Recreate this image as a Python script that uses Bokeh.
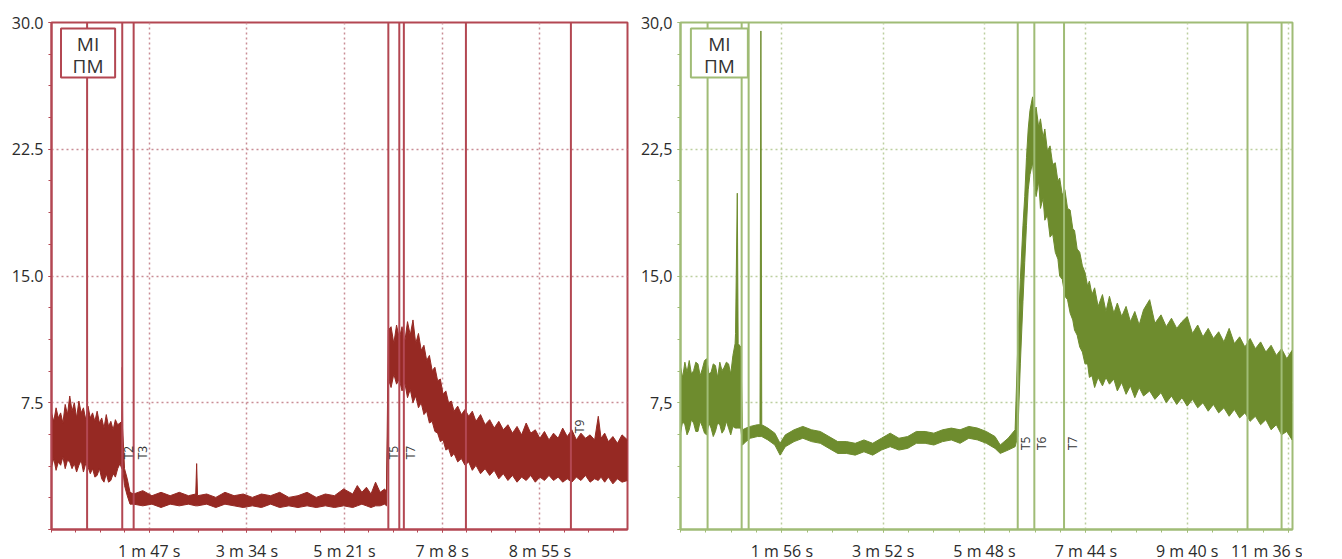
import math
from bokeh.plotting import figure
from bokeh.models import FixedTicker, BoxAnnotation, Label, Span, Range1d
from bokeh.layouts import row
from bokeh.embed import file_html
from bokeh.resources import INLINE

# ---------------- data: left panel (MI, red) ----------------
left_t = [0, 2.5, 5, 7.5, 10, 12.5, 15, 17.5, 20, 22.5, 25, 27.5, 30, 32.5, 35, 37.5, 40,
          42.5, 45, 47.5, 50, 52.5, 55, 57.5, 60, 62.5, 65, 67.5, 70, 72.5, 75,
          77, 77.5, 78, 80, 83, 86,
          90, 100, 110, 120, 130, 140, 150, 158, 159, 160, 170, 180, 190, 200, 210, 220,
          230, 240, 250, 260, 270, 280, 290, 300, 310, 320, 330, 335, 340, 345, 350, 355,
          360, 365, 367,
          369, 372, 375, 378, 381, 384, 387, 390, 393, 396, 399, 402, 405, 408, 411, 414,
          417, 420, 423, 426, 429, 432, 435, 438, 441, 445, 449, 453, 457, 461, 465, 470,
          475, 480, 485, 490, 495, 500, 505, 510, 515, 520, 525, 530, 535, 540, 545, 550,
          555, 560, 565, 570, 575, 580, 585, 590, 595, 599, 602, 606, 610, 615, 620, 625, 631]
left_hi = [6.9, 6.4, 7.2, 6.6, 6.9, 6.3, 7.4, 6.8, 7.9, 7.0, 7.5, 6.6, 7.6, 6.9, 7.2, 6.5, 7.3,
           6.6, 6.9, 6.4, 7.0, 6.3, 6.6, 6.0, 6.8, 6.1, 6.4, 5.9, 6.5, 6.2, 6.3,
           6.4, 9.6, 6.0, 3.6, 3.0, 2.2,
           2.1, 2.3, 2.0, 2.2, 2.0, 2.2, 2.0, 2.1, 3.9, 2.0, 2.1, 1.9, 2.2, 2.0, 2.1, 1.9,
           2.1, 2.0, 2.2, 1.9, 2.0, 2.2, 1.9, 2.1, 2.0, 2.4, 2.1, 2.6, 2.2, 2.5, 2.1, 2.8,
           2.2, 2.4, 2.2,
           11.8, 12.0, 11.0, 12.1, 11.3, 12.0, 11.1, 12.3, 11.5, 12.4, 11.0, 11.6, 10.6, 10.9, 10.0, 10.3,
           9.4, 9.6, 8.8, 8.9, 8.0, 8.2, 7.5, 7.6, 7.0, 7.3, 6.8, 7.1, 6.7, 7.0, 6.4, 6.8,
           6.2, 6.5, 6.0, 6.4, 5.9, 6.2, 5.7, 6.1, 5.6, 6.3, 5.7, 5.9, 5.4, 5.8, 5.3, 5.7,
           5.4, 6.0, 5.5, 5.9, 5.3, 5.7, 5.4, 5.6, 5.3, 6.7, 5.4, 5.7, 5.2, 5.5, 5.1, 5.6, 5.3]
left_lo = [3.7, 4.2, 3.5, 4.0, 3.8, 4.3, 3.6, 4.1, 4.0, 3.6, 3.9, 3.4, 3.8, 4.1, 3.4, 3.9, 3.7,
           3.3, 3.6, 3.1, 3.2, 3.6, 3.0, 2.8, 3.3, 2.8, 2.9, 3.3, 3.1, 3.6, 3.9,
           3.6, 3.6, 3.6, 2.6, 2.0, 1.5,
           1.5, 1.4, 1.5, 1.3, 1.5, 1.4, 1.5, 1.4, 1.4, 1.4, 1.5, 1.3, 1.5, 1.4, 1.3, 1.4,
           1.3, 1.5, 1.3, 1.4, 1.3, 1.4, 1.3, 1.4, 1.3, 1.4, 1.3, 1.4, 1.5, 1.4, 1.3, 1.4,
           1.4, 1.5, 1.4,
           8.9, 8.4, 9.2, 8.6, 8.9, 8.2, 8.7, 7.8, 8.3, 7.5, 7.9, 7.2, 7.5, 6.8, 7.0, 6.3,
           6.4, 5.8, 5.7, 5.2, 5.3, 4.7, 4.8, 4.3, 4.5, 4.0, 4.2, 3.8, 4.0, 3.5, 3.8, 3.3,
           3.6, 3.2, 3.5, 3.0, 3.3, 2.9, 3.2, 2.8, 3.1, 2.9, 3.2, 2.8, 3.1, 2.9, 3.2, 2.9,
           3.1, 2.8, 3.0, 2.8, 3.1, 2.9, 3.2, 2.8, 3.0, 2.9, 3.1, 2.8, 3.1, 2.7, 3.0, 2.8, 2.9]
left_events = [39, 77.5, 90, 369, 381, 386, 454, 569]
left_marks = ["T2", "T3", "T5", "T7", "T9"]
left_mark_t = [84, 100, 375, 393, 578]
left_mark_v = [4.55, 4.55, 4.55, 4.55, 6.1]
left_xticks = [107, 214, 321, 428, 535]
left_xlabels = ["1 m 47 s", "3 m 34 s", "5 m 21 s", "7 m 8 s", "8 m 55 s"]
left_yticks = [0, 7.5, 15, 22.5, 30]
left_ylabels = ["", "7.5", "15.0", "22.5", "30.0"]

# ---------------- data: right panel (ПМ, green) ----------------
right_t = [0, 2.5, 5, 7.5, 10, 12.5, 15, 17.5, 20, 22.5, 25, 27.5, 30, 32.5, 35, 37.5, 40,
           42.5, 45, 47.5, 50, 52.5, 55, 57.5, 60, 62.5, 63, 65, 66, 69,
           71, 75, 80, 88, 91, 92, 93, 100, 108, 114, 120, 130, 140, 150, 160, 170, 180,
           190, 200, 210, 220, 230, 240, 250, 260, 270, 280, 290, 300, 310, 320, 330, 340,
           350, 360, 366, 375, 383,
           386, 389, 392, 394, 396, 398, 400, 403, 405, 407, 410, 412, 415, 417, 420, 423,
           426, 429, 432, 434, 437, 440, 443, 446, 449, 451, 454, 457, 460, 463, 466, 468,
           471, 474, 478, 483, 487, 491, 496, 500, 505, 510, 515, 520, 525, 530, 537, 543,
           550, 556, 562, 568, 574, 580, 586, 592, 598, 604, 610, 616, 622, 628, 634, 640,
           646, 652, 658, 664, 670, 676, 682, 688, 694, 700]
right_hi = [9.6, 9.0, 9.9, 9.3, 10.0, 9.2, 9.4, 9.9, 9.8, 9.1, 9.5, 10.0, 10.1, 9.2, 9.3, 9.8, 9.7,
            9.0, 9.9, 9.4, 9.6, 9.9, 9.8, 9.2, 10.3, 11.0, 11.6, 19.9, 11.0, 10.8,
            5.9, 6.0, 6.1, 6.2, 6.2, 29.5, 6.2, 6.0, 5.7, 5.1, 5.6, 5.9, 6.1, 5.9, 5.8, 5.5, 5.2,
            5.2, 5.1, 5.3, 5.1, 5.4, 5.7, 5.4, 5.5, 5.8, 5.8, 5.7, 5.9, 6.0, 5.9, 6.1, 6.0,
            5.8, 5.5, 5.0, 5.4, 5.9,
            10.8, 14.8, 18.0, 19.7, 22.0, 23.7, 24.8, 25.6, 24.6, 25.0, 23.8, 24.3, 23.2, 23.7, 22.4, 22.7,
            21.6, 21.7, 20.6, 20.8, 19.8, 20.1, 19.0, 18.9, 17.8, 17.7, 16.6, 16.4, 15.6, 15.2, 14.4, 14.7,
            13.9, 14.3, 13.2, 13.9, 12.9, 13.8, 12.8, 13.4, 12.6, 13.2, 12.3, 12.9, 12.1, 13.0, 13.6, 12.2,
            12.7, 12.0, 12.5, 11.9, 12.3, 12.6, 11.6, 12.1, 11.4, 11.9, 11.3, 11.7, 11.1, 11.9, 11.0, 11.4,
            10.8, 11.3, 10.7, 11.1, 10.5, 10.9, 10.3, 10.7, 10.1, 10.6]
right_lo = [5.7, 6.4, 6.2, 5.6, 5.9, 6.5, 6.3, 5.8, 5.8, 6.4, 6.1, 5.7, 5.6, 6.3, 6.0, 5.5, 5.8,
            6.3, 6.2, 5.7, 5.9, 6.4, 6.0, 5.6, 6.1, 6.0, 6.0, 6.0, 6.0, 6.0,
            5.0, 5.2, 5.4, 5.5, 5.5, 5.5, 5.5, 5.3, 5.0, 4.4, 4.9, 5.2, 5.4, 5.2, 5.1, 4.8, 4.5,
            4.5, 4.4, 4.6, 4.4, 4.7, 4.9, 4.7, 4.8, 5.1, 5.1, 5.0, 5.2, 5.3, 5.1, 5.4, 5.3,
            5.1, 4.8, 4.5, 4.7, 4.9,
            5.5, 9.8, 13.5, 15.8, 18.0, 20.1, 21.0, 21.7, 20.3, 19.7, 20.6, 19.0, 19.6, 18.3, 18.6, 17.3,
            17.5, 16.4, 16.0, 15.0, 14.8, 13.8, 13.6, 12.8, 12.4, 11.8, 11.5, 10.8, 10.5, 9.8, 9.8, 9.0,
            9.1, 8.4, 9.0, 8.5, 9.0, 8.6, 8.9, 8.2, 8.7, 8.0, 8.5, 7.8, 8.4, 7.9, 8.2, 7.7,
            8.1, 7.5, 7.9, 7.4, 7.8, 7.3, 7.7, 7.2, 7.5, 7.0, 7.4, 6.9, 7.2, 6.7, 7.1, 6.6,
            6.9, 6.4, 6.7, 6.2, 6.5, 5.9, 6.2, 5.6, 5.8, 5.3]
right_events = [31, 70, 78, 386, 405, 439, 649, 688]
right_marks = ["T5", "T6", "T7"]
right_mark_t = [395, 413, 449]
right_mark_v = [5.1, 5.1, 5.1]
right_xticks = [116, 232, 348, 464, 580, 696]
right_xlabels = ["1 m 56 s", "3 m 52 s", "5 m 48 s", "7 m 44 s", "9 m 40 s", "11 m 36 s"]
right_yticks = [0, 7.5, 15, 22.5, 30]
right_ylabels = ["", "7,5", "15,0", "22,5", "30,0"]

legend_lines = ["MI", "ПМ"]
FONT = "Open Sans"


def panel(t, lo, hi, events, marks, mark_t, mark_v, xticks, xlabels, yticks, ylabels,
          x_end, frame_w, border_l, data_col, frame_col, grid_col, box_x):
    p = figure(frame_width=frame_w, frame_height=507, output_backend="svg",
               toolbar_location=None, x_range=Range1d(0, x_end), y_range=Range1d(0, 30),
               min_border_left=border_l, min_border_right=10, min_border_top=22,
               min_border_bottom=30)
    p.background_fill_color = "white"
    p.border_fill_color = "white"
    p.outline_line_color = frame_col
    p.outline_line_width = 2

    step_x = xticks[1] - xticks[0]
    xminor = [i * step_x / 4 for i in range(int(x_end / (step_x / 4)) + 1)]
    p.xaxis.ticker = FixedTicker(ticks=xticks, minor_ticks=xminor)
    p.xaxis.major_label_overrides = {k: v for k, v in zip(xticks, xlabels)}
    yminor = [i * 1.875 for i in range(17)]
    p.yaxis.ticker = FixedTicker(ticks=yticks, minor_ticks=yminor)
    p.yaxis.major_label_overrides = {k: v for k, v in zip(yticks, ylabels)}

    for ax in (p.xaxis, p.yaxis):
        ax.axis_line_color = frame_col
        ax.axis_line_width = 2
        ax.major_tick_line_color = frame_col
        ax.major_tick_in = 0
        ax.major_tick_out = 3
        ax.minor_tick_line_color = frame_col
        ax.minor_tick_in = 0
        ax.minor_tick_out = 3
        ax.major_label_text_font = FONT
        ax.major_label_text_font_size = "16px"
        ax.major_label_text_color = "#2b2b2b"
    p.xaxis.major_label_standoff = 7
    p.yaxis.major_label_standoff = 5

    for g in (p.xgrid, p.ygrid):
        g.grid_line_color = grid_col
        g.grid_line_dash = "2 3"
        g.grid_line_width = 1.5

    p.varea(x=t, y1=lo, y2=hi, fill_color=data_col)
    p.line(x=t, y=hi, line_color=data_col, line_width=1)
    p.line(x=t, y=lo, line_color=data_col, line_width=1)

    for e in events:
        p.add_layout(Span(location=e, dimension="height", line_color=frame_col, line_width=2))

    p.add_layout(BoxAnnotation(left=box_x[0], right=box_x[1], bottom=26.75, top=29.64,
                               fill_color="white", fill_alpha=1.0, level="overlay",
                               line_color=frame_col, line_alpha=1.0, line_width=2))
    cx = (box_x[0] + box_x[1]) / 2
    for txt, yv in zip(legend_lines, [28.75, 27.45]):
        p.add_layout(Label(x=cx, y=yv, text=txt, level="overlay",
                           text_align="center", text_baseline="middle",
                           text_font=FONT, text_font_size="19px", text_color="#333333"))
    for m, mt, mv in zip(marks, mark_t, mark_v):
        p.add_layout(Label(x=mt, y=mv, text=m, angle=math.pi / 2, angle_units="rad",
                           text_align="center", text_baseline="middle",
                           text_font=FONT, text_font_size="12px", text_color="#333333"))
    return p


p1 = panel(left_t, left_lo, left_hi, left_events, left_marks, left_mark_t, left_mark_v,
           left_xticks, left_xlabels, left_yticks, left_ylabels,
           631, 576, 51, "#962923", "#b34752", "#c98d95", (10.4, 69.7))
p2 = panel(right_t, right_lo, right_hi, right_events, right_marks, right_mark_t, right_mark_v,
           right_xticks, right_xlabels, right_yticks, right_ylabels,
           700.5, 612, 43, "#6e8c2e", "#a0bc76", "#bccf9f", (11.9, 77.1))

layout = row(p1, p2)
open("out.html", "w").write(file_html(layout, INLINE))
